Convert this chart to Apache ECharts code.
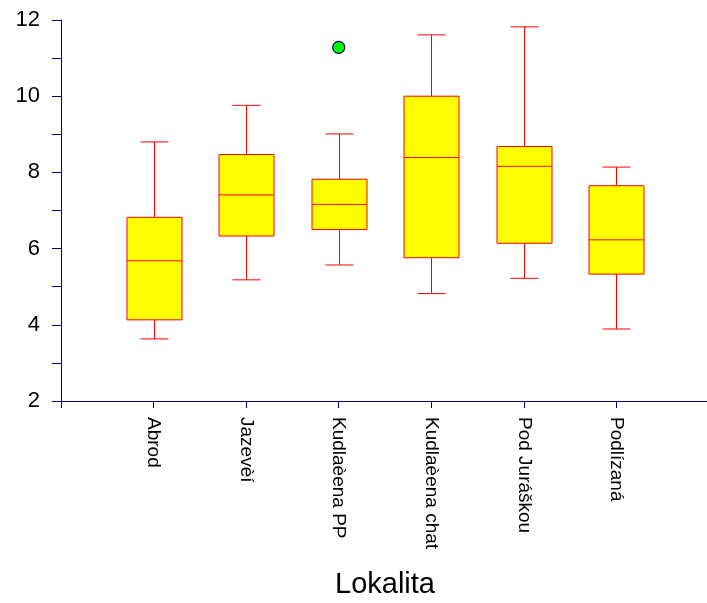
<!DOCTYPE html>
<html>
<head>
<meta charset="utf-8">
<script src="https://cdn.jsdelivr.net/npm/echarts@6/dist/echarts.min.js"></script>
<style>
html,body{margin:0;padding:0;background:#fff;}
#chart{width:707px;height:603px;}
</style>
</head>
<body>
<div id="chart"></div>
<script>
// Data
const categories = ['Abrod', 'Jazevèí', 'Kudlaèena PP', 'Kudlaèena chat', 'Pod Juráškou', 'Podlízaná'];
const whiskerLow  = [3.63, 5.18, 5.57, 4.82, 5.22, 3.89];
const quartile1   = [4.13, 6.33, 6.50, 5.76, 6.14, 5.33];
const medians     = [5.68, 7.41, 7.16, 8.39, 8.16, 6.23];
const quartile3   = [6.82, 8.47, 7.82, 10.00, 8.68, 7.65];
const whiskerHigh = [8.80, 9.76, 9.01, 11.61, 11.82, 8.14];
const outlierCategory = ['Kudlaèena PP'];
const outlierValue = [11.28];
const yTicks = [2, 4, 6, 8, 10, 12];
const axisTitle = 'Lokalita';

const axisCats = [''].concat(categories, ['']);
const boxData = categories.map((c, i) => [i + 1, whiskerLow[i], quartile1[i], medians[i], quartile3[i], whiskerHigh[i]]);
const outData = outlierCategory.map((c, i) => [categories.indexOf(c) + 1, outlierValue[i]]);

const FONT = "'Liberation Sans', Arial, sans-serif";
const AXIS_COLOR = '#000080';
const BOX_W = 55, CAP_W = 28;

function renderBox(params, api) {
  const x = api.value(0);
  const pMin = api.coord([x, api.value(1)]);
  const pQ1 = api.coord([x, api.value(2)]);
  const pMed = api.coord([x, api.value(3)]);
  const pQ3 = api.coord([x, api.value(4)]);
  const pMax = api.coord([x, api.value(5)]);
  const cx = Math.round(pMin[0]) + 0.5;
  const line = (x1, y1, x2, y2) => ({
    type: 'line',
    shape: {x1, y1, x2, y2},
    style: {stroke: '#ff0000', lineWidth: 1}
  });
  return {
    type: 'group',
    children: [
      line(cx, pMin[1], cx, pQ1[1]),
      line(cx, pQ3[1], cx, pMax[1]),
      line(cx - CAP_W / 2, pMin[1], cx + CAP_W / 2, pMin[1]),
      line(cx - CAP_W / 2, pMax[1], cx + CAP_W / 2, pMax[1]),
      {
        type: 'rect',
        shape: {x: cx - BOX_W / 2, y: pQ3[1], width: BOX_W, height: pQ1[1] - pQ3[1]},
        style: {fill: '#ffff00', stroke: '#ff0000', lineWidth: 1}
      },
      line(cx - BOX_W / 2, pMed[1], cx + BOX_W / 2, pMed[1])
    ]
  };
}

const chart = echarts.init(document.getElementById('chart'), null, {renderer: 'canvas'});
chart.setOption({
  animation: false,
  backgroundColor: '#ffffff',
  grid: {left: 61, top: 20, width: 648, height: 381, containLabel: false, outerBoundsMode: 'none'},
  xAxis: {
    type: 'category',
    data: axisCats,
    boundaryGap: false,
    name: axisTitle,
    nameLocation: 'middle',
    nameGap: 184,
    nameMoveOverlap: false,
    nameTextStyle: {fontFamily: FONT, fontSize: 29, color: '#000', verticalAlign: 'middle'},
    axisLine: {lineStyle: {color: AXIS_COLOR, width: 1}},
    axisTick: {show: true, length: 7, interval: 0, lineStyle: {color: AXIS_COLOR}},
    axisLabel: {
      interval: 0, rotate: -90, margin: 16,
      fontFamily: FONT, fontSize: 19, color: '#000'
    },
    splitLine: {show: false}
  },
  yAxis: {
    type: 'value',
    min: 2, max: 12, interval: 1,
    axisLine: {show: true, lineStyle: {color: AXIS_COLOR, width: 1}},
    axisTick: {show: true, length: 9, lineStyle: {color: AXIS_COLOR}},
    axisLabel: {
      margin: 21, fontFamily: FONT, fontSize: 22, color: '#000',
      formatter: v => yTicks.indexOf(v) >= 0 ? String(v) : ''
    },
    splitLine: {show: false}
  },
  series: [
    {
      type: 'custom',
      renderItem: renderBox,
      encode: {x: 0, y: [1, 2, 3, 4, 5]},
      data: boxData,
      z: 2
    },
    {
      type: 'scatter',
      data: outData,
      symbol: 'circle',
      symbolSize: 12,
      itemStyle: {color: '#00ff00', borderColor: '#000080', borderWidth: 1.2, opacity: 1},
      z: 3
    }
  ]
});
</script>
</body>
</html>
